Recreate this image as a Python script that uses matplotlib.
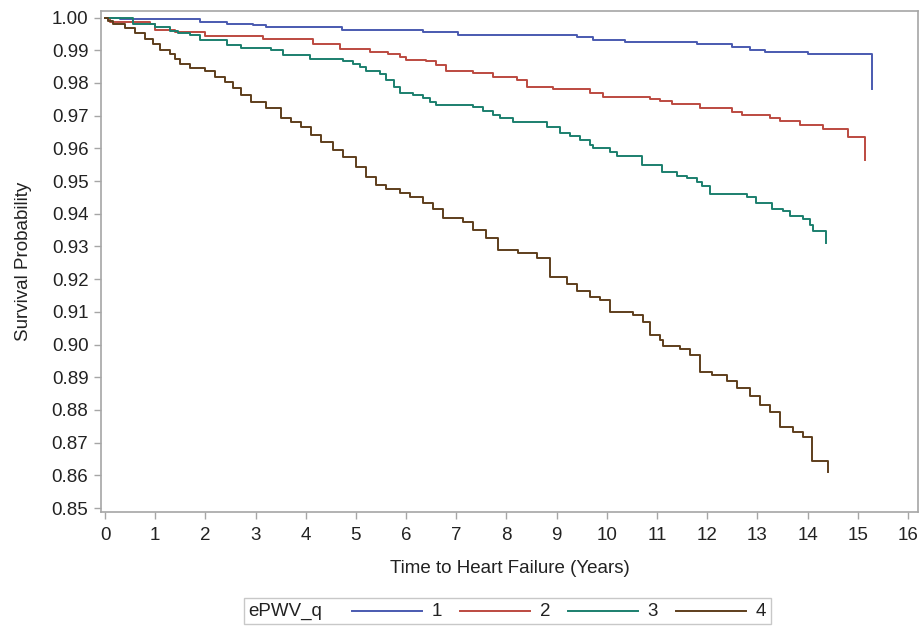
import matplotlib
matplotlib.use("Agg")
import matplotlib.pyplot as plt
from matplotlib.lines import Line2D
from matplotlib.offsetbox import AnchoredOffsetbox, HPacker, TextArea, DrawingArea

plt.rcParams['font.family'] = ['Liberation Sans', 'DejaVu Sans']

# ---- data ----
t1 = [0, 0.3, 1.89, 2.43, 2.95, 3.2, 4.72, 6.33, 7.03, 9.4, 9.72, 10.36, 11.8, 12.5, 12.85, 13.15, 14.0, 15.28]
s1 = [1.000, 0.9995, 0.9986, 0.9980, 0.9976, 0.9970, 0.9961, 0.9957, 0.9948, 0.9939, 0.9930, 0.9925, 0.9918,
      0.9910, 0.9900, 0.9896, 0.9890, 0.9783]

t2 = [0, 0.1, 0.9, 1.0, 1.4, 2.0, 3.15, 4.15, 4.68, 5.28, 5.64, 5.88, 6.0, 6.4, 6.6, 6.8, 7.33, 7.73, 8.2,
      8.4, 8.93, 9.66, 9.93, 10.86, 11.06, 11.3, 11.85, 12.5, 12.7, 13.25, 13.45, 13.85, 14.3, 14.8, 15.14]
s2 = [1.000, 0.9985, 0.9980, 0.9962, 0.9955, 0.9943, 0.9935, 0.9920, 0.9903, 0.9896, 0.9890, 0.9880, 0.9871,
      0.9868, 0.9856, 0.9835, 0.9830, 0.9819, 0.9810, 0.9789, 0.9780, 0.9770, 0.9758, 0.9752, 0.9746, 0.9737,
      0.9724, 0.9712, 0.9703, 0.9694, 0.9685, 0.9672, 0.9660, 0.9636, 0.9565]

t3 = [0, 0.56, 1.0, 1.3, 1.45, 1.7, 1.9, 2.43, 2.7, 3.3, 3.55, 4.08, 4.75, 4.95, 5.08, 5.2, 5.48, 5.6, 5.75,
      5.88, 6.14, 6.33, 6.47, 6.6, 7.33, 7.53, 7.73, 7.87, 8.13, 8.8, 9.06, 9.26, 9.46, 9.66, 9.72, 10.06,
      10.2, 10.7, 11.1, 11.4, 11.6, 11.8, 11.9, 12.05, 12.8, 12.98, 13.3, 13.5, 13.65, 13.9, 14.05, 14.1, 14.36]
s3 = [1.000, 0.9980, 0.9970, 0.9960, 0.9954, 0.9948, 0.9932, 0.9917, 0.9908, 0.9900, 0.9885, 0.9874, 0.9866,
      0.9859, 0.9850, 0.9835, 0.9826, 0.9810, 0.9789, 0.9770, 0.9764, 0.9755, 0.9743, 0.9734, 0.9727, 0.9715,
      0.9703, 0.9694, 0.9681, 0.9666, 0.9648, 0.9639, 0.9627, 0.9611, 0.9602, 0.9590, 0.9577, 0.9550, 0.9528,
      0.9516, 0.9510, 0.9498, 0.9486, 0.9461, 0.9452, 0.9434, 0.9415, 0.9409, 0.9394, 0.9385, 0.9366, 0.9348,
      0.9311]

t4 = [0, 0.05, 0.16, 0.4, 0.6, 0.8, 0.95, 1.1, 1.3, 1.4, 1.5, 1.7, 2.0, 2.2, 2.4, 2.55, 2.7, 2.9, 3.2, 3.5,
      3.7, 3.9, 4.1, 4.3, 4.55, 4.75, 5.0, 5.2, 5.4, 5.6, 5.88, 6.08, 6.33, 6.53, 6.73, 7.13, 7.33, 7.6, 7.83,
      8.23, 8.6, 8.86, 9.2, 9.4, 9.66, 9.86, 10.06, 10.52, 10.72, 10.86, 11.06, 11.12, 11.45, 11.65, 11.85,
      12.1, 12.4, 12.6, 12.85, 13.05, 13.25, 13.45, 13.7, 13.9, 14.08, 14.4]
s4 = [1.000, 0.9988, 0.9979, 0.9967, 0.9954, 0.9933, 0.9918, 0.9902, 0.9887, 0.9872, 0.9859, 0.9847, 0.9835,
      0.9819, 0.9804, 0.9785, 0.9764, 0.9743, 0.9724, 0.9694, 0.9681, 0.9666, 0.9642, 0.9620, 0.9596, 0.9574,
      0.9544, 0.9513, 0.9489, 0.9476, 0.9464, 0.9452, 0.9434, 0.9415, 0.9387, 0.9375, 0.9351, 0.9326, 0.9290,
      0.9280, 0.9265, 0.9207, 0.9186, 0.9165, 0.9146, 0.9137, 0.9100, 0.9091, 0.9070, 0.9030, 0.9014, 0.8996,
      0.8987, 0.8968, 0.8917, 0.8907, 0.8889, 0.8867, 0.8842, 0.8815, 0.8793, 0.8748, 0.8732, 0.8717, 0.8643,
      0.8610]

groups = ['1', '2', '3', '4']
colors = ['#4A5AB0', '#BC4A40', '#1B7F6E', '#5E3E1C']
legend_title = 'ePWV_q'
x_ticks = list(range(0, 17))
y_ticks = [0.85, 0.86, 0.87, 0.88, 0.89, 0.90, 0.91, 0.92, 0.93, 0.94, 0.95, 0.96, 0.97, 0.98, 0.99, 1.00]

FS = 13.5
TXT = '#222222'

# ---- figure ----
fig = plt.figure(figsize=(9.24, 6.29), dpi=100)
ax = fig.add_axes([101 / 924, 1 - 512 / 629, 817 / 924, 501 / 629])

for t, s, c, g in zip([t1, t2, t3, t4], [s1, s2, s3, s4], colors, groups):
    ax.step(t, s, where='post', color=c, lw=1.4, label=g)

ax.set_xlim(-0.08, 16.2)
ax.set_ylim(0.8488, 1.002)
ax.set_xticks(x_ticks)
ax.set_yticks(y_ticks)
ax.set_yticklabels([f'{v:.2f}' for v in y_ticks])

gray = '#A6A6A6'
for sp in ax.spines.values():
    sp.set_color(gray)
    sp.set_linewidth(1.2)
ax.tick_params(axis='both', colors=gray, labelcolor=TXT, labelsize=FS, length=5, width=1.0)
ax.tick_params(axis='x', pad=6)
ax.tick_params(axis='y', pad=4)

ax.set_xlabel('Time to Heart Failure (Years)', fontsize=FS, color=TXT, labelpad=11)
ax.set_ylabel('Survival Probability', fontsize=FS, color=TXT, labelpad=14)

# ---- legend: title inline on the left, entries in one row ----
tp = dict(fontsize=FS, color=TXT)
entries = []
for c, g in zip(colors, groups):
    da = DrawingArea(50.4, 8, 0, 0)
    da.add_artist(Line2D([0, 50.4], [4, 4], color=c, lw=1.4))
    entries.append(HPacker(children=[da, TextArea(g, textprops=tp)], align='center', pad=0, sep=7))
row = HPacker(children=entries, align='center', pad=0, sep=13)
content = HPacker(children=[TextArea(legend_title, textprops=tp), row], align='center', pad=0, sep=21)
box = AnchoredOffsetbox(loc='center', child=content, pad=0.3, borderpad=0, frameon=True,
                        bbox_to_anchor=(507.5 / 924, 1 - 611 / 629), bbox_transform=fig.transFigure)
box.patch.set_boxstyle('square', pad=0)
box.patch.set_edgecolor('#C8C8C8')
box.patch.set_linewidth(1.0)
fig.add_artist(box)

fig.savefig('out.png', dpi=100)
